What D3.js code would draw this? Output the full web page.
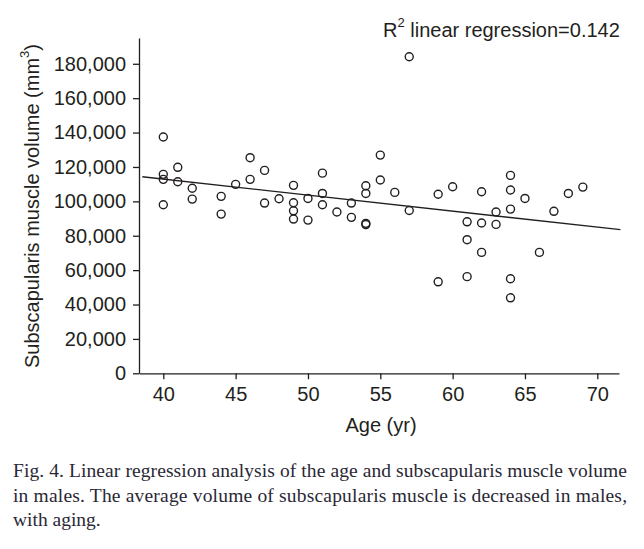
<!DOCTYPE html>
<html>
<head>
<meta charset="utf-8">
<script src="https://cdn.jsdelivr.net/npm/d3@7"></script>
<style>
  html, body { margin: 0; padding: 0; background: #fff; }
  svg { display: block; }
</style>
</head>
<body>
<svg id="chart" width="644" height="549"></svg>
<script>
// ---- Data ----
const ages = [
  40, 40, 40, 40,
  41, 41,
  42, 42,
  44, 44,
  45,
  46, 46,
  47, 47,
  48,
  49, 49, 49, 49,
  50, 50,
  51, 51, 51,
  52,
  53, 53,
  54, 54, 54, 54,
  55, 55,
  56,
  57, 57,
  59, 59,
  60,
  61, 61, 61,
  62, 62, 62,
  63, 63,
  64, 64, 64, 64, 64,
  65,
  66,
  67,
  68,
  69
];
const volumes = [
  137400, 115700, 112800, 98000,
  119800, 111400,
  107600, 101300,
  102900, 92600,
  109900,
  125400, 112800,
  118000, 99000,
  101500,
  109300, 99200, 94500, 89700,
  101700, 89100,
  116400, 104600, 98000,
  93800,
  99000, 90700,
  109100, 104600, 87200, 86500,
  126900, 112400,
  105200,
  184100, 94700,
  104100, 53200,
  108500,
  88100, 77700, 56200,
  105600, 87400, 70300,
  93800, 86600,
  115100, 106600, 95500, 55000, 43900,
  101700,
  70300,
  94200,
  104600,
  108300
];
// regression line end points [age, volume]
const regressionStart = [38.55, 114300];
const regressionEnd = [71.6, 83500];
const xTicks = [40, 45, 50, 55, 60, 65, 70];
const yTicks = [0, 20000, 40000, 60000, 80000, 100000, 120000, 140000, 160000, 180000];
const xDomain = [38.32, 71.5];
const yDomain = [0, 195000];
const xLabel = "Age (yr)";
const yLabelMain = "Subscapularis muscle volume (mm";
const yLabelSup = "3";
const annotationMain = "R";
const annotationSup = "2";
const annotationRest = " linear regression=0.142";
const captionLines = [
  "Fig. 4. Linear regression analysis of the age and subscapularis muscle volume",
  "in males. The average volume of subscapularis muscle is decreased in males,",
  "with aging."
];

// ---- Drawing ----
const ink = "#231f20";
const svg = d3.select("#chart");
const font = "'Liberation Sans', Arial, sans-serif";

const x = d3.scaleLinear().domain(xDomain).range([139, 619]);
const y = d3.scaleLinear().domain(yDomain).range([373.3, 38]);

const points = ages.map((a, i) => ({ age: a, vol: volumes[i] }));

// axes
const yAxis = d3.axisLeft(y).tickValues(yTicks).tickFormat(d3.format(","))
  .tickSizeInner(6).tickSizeOuter(0).tickPadding(7);
const xAxis = d3.axisBottom(x).tickValues(xTicks).tickFormat(d3.format("d"))
  .tickSizeInner(6).tickSizeOuter(0).tickPadding(8);

const gy = svg.append("g").attr("transform", `translate(${x.range()[0]},0)`).call(yAxis);
const gx = svg.append("g").attr("transform", `translate(0,${y.range()[0]})`).call(xAxis);

[gx, gy].forEach(g => {
  g.select(".domain").attr("stroke", ink).attr("stroke-width", 1.3);
  g.selectAll(".tick line").attr("stroke", ink).attr("stroke-width", 1.3);
  g.selectAll(".tick text").attr("fill", ink)
    .style("font-family", font).style("font-size", "20px");
});

// regression line
svg.append("line")
  .attr("x1", x(regressionStart[0])).attr("y1", y(regressionStart[1]))
  .attr("x2", x(regressionEnd[0])).attr("y2", y(regressionEnd[1]))
  .attr("stroke", ink).attr("stroke-width", 1.3);

// points
svg.append("g").selectAll("circle").data(points).join("circle")
  .attr("cx", d => x(d.age)).attr("cy", d => y(d.vol))
  .attr("r", 4)
  .attr("fill", "none").attr("stroke", ink).attr("stroke-width", 1.4);

// x label
svg.append("text")
  .attr("x", 381).attr("y", 432)
  .attr("text-anchor", "middle")
  .attr("fill", ink)
  .style("font-family", font).style("font-size", "20px")
  .text(xLabel);

// y label
const yl = svg.append("text")
  .attr("transform", "translate(38.5,206) rotate(-90)")
  .attr("text-anchor", "middle")
  .attr("fill", ink)
  .style("font-family", font).style("font-size", "20px");
yl.append("tspan").text(yLabelMain);
yl.append("tspan").attr("dy", "-0.75em").style("font-size", "13px").text(yLabelSup);
yl.append("tspan").attr("dy", "0.49em").text(")");

// annotation
const an = svg.append("text")
  .attr("x", 383).attr("y", 36.5)
  .attr("fill", ink)
  .style("font-family", font).style("font-size", "20px");
an.append("tspan").text(annotationMain);
an.append("tspan").attr("dy", "-0.75em").style("font-size", "13px").text(annotationSup);
an.append("tspan").attr("dy", "0.49em").text(annotationRest);

// caption
const capY = [477, 502, 526];
const capWidths = [614, 614, null];
captionLines.forEach((line, i) => {
  const t = svg.append("text")
    .attr("x", 13).attr("y", capY[i])
    .attr("fill", "#2a2835")
    .style("font-family", "'Liberation Serif', 'DejaVu Serif', serif")
    .style("font-size", "19.5px")
    .text(line);
  if (capWidths[i]) t.attr("textLength", capWidths[i]).attr("lengthAdjust", "spacing");
});
</script>
</body>
</html>
